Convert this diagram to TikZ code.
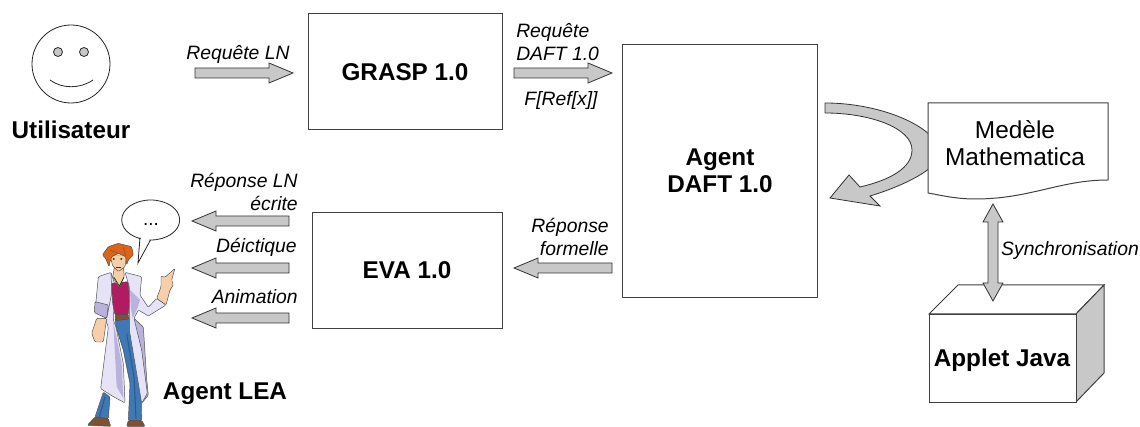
\documentclass[tikz,border=0pt]{standalone}
\usepackage{fontspec}
\setmainfont{Liberation Sans}
\definecolor{agrey}{HTML}{C8C8C8}
\definecolor{lcoat}{HTML}{E6E3F6}
\definecolor{lcoatd}{HTML}{B9B2DC}
\definecolor{lskin}{HTML}{F6CFA8}
\definecolor{lhair}{HTML}{DC6418}
\definecolor{lhaird}{HTML}{B04A10}
\definecolor{lshirt}{HTML}{B21A62}
\definecolor{ljean}{HTML}{3F78B4}
\definecolor{ljeand}{HTML}{2C5A90}
\definecolor{lboot}{HTML}{7E5230}
\newcommand\arrowR[3]{\draw[blockarrow] (#1,#3-5) -- (#2-24,#3-5) -- (#2-24,#3-10) -- (#2,#3) -- (#2-24,#3+10) -- (#2-24,#3+5) -- (#1,#3+5) -- cycle;}
\newcommand\arrowL[3]{\draw[blockarrow] (#1,#3-5) -- (#2+24,#3-5) -- (#2+24,#3-10) -- (#2,#3) -- (#2+24,#3+10) -- (#2+24,#3+5) -- (#1,#3+5) -- cycle;}
\tikzset{
  box/.style={draw=black!75,line width=0.75pt,fill=white,inner sep=0pt,align=center},
  blockarrow/.style={draw=black!80,line width=0.6pt,fill=agrey},
  boldlab/.style={font=\fontsize{18.2}{20}\selectfont\bfseries,align=center,inner sep=0pt},
  itlab/.style={font=\fontsize{14.5}{16.6}\selectfont\itshape,align=center,inner sep=0pt},
  figline/.style={draw=black!70,line width=0.35pt,line join=round,rounded corners=0.8pt}
}
\begin{document}
\begin{tikzpicture}[x=0.75pt,y=-0.75pt]
\useasboundingbox[fill=white] (0,0) rectangle (1140,427);
% user
\draw[line width=0.6pt,draw=black!85,fill=white] (71,64) circle[radius=39];
\draw[line width=0.6pt,draw=black!85,fill=agrey] (58,52) circle[radius=4.5] (84,52) circle[radius=4.5];
\draw[line width=0.6pt,draw=black!85] (50,80) .. controls (62,89) and (80,89) .. (93,80);
\node[boldlab] (user) at (71,130) {Utilisateur};
% boxes
\node[box,minimum width=145.5pt,minimum height=87pt,anchor=north west] (grasp) at (308,13) {};
\node[boldlab] (grasplab) at (405,72) {GRASP 1.0};
\node[box,minimum width=146.25pt,minimum height=189.75pt,anchor=north west] (agent) at (622,44) {};
\node[boldlab] (agentlab) at (720,171) {Agent\\DAFT 1.0};
\node[box,minimum width=142.5pt,minimum height=87pt,anchor=north west] (eva) at (312,212) {};
\node[boldlab] (evalab) at (407,270) {EVA 1.0};
% block arrows
\arrowR{195}{293}{73}
\arrowR{514}{612}{73}
\arrowL{612}{514}{268}
\arrowL{289}{192}{221}
\arrowL{289}{192}{268}
\arrowL{289}{192}{318}
% curved arrow
\draw[blockarrow] (825,103) .. controls (870,103) and (912,118) .. (930,135) -- (930,168) .. controls (915,180) and (890,190) .. (870,196) -- (880,206) -- (830,198) -- (849,175) -- (860,187) .. controls (890,180) and (912,168) .. (912,150) .. controls (912,128) and (870,113) .. (825,113) -- cycle;
% document
\draw[box] (928,103) -- (1108,103) -- (1108,180) .. controls (1060,180) and (1030,199) .. (975,199) .. controls (955,199) and (940,195) .. (928,193) -- cycle;
\node[font=\fontsize{18.3}{20}\selectfont,align=center,inner sep=0pt] (doc) at (1015,143) {Medèle\\Mathematica};
% java cube
\draw[box] (929,314) -- (958,285) -- (1104,285) -- (1076,314) -- cycle;
\draw[draw=black!75,line width=0.75pt,fill=agrey] (1076,314) -- (1104,285) -- (1104,373) -- (1076,402) -- cycle;
\node[box,minimum width=110.25pt,minimum height=66pt,anchor=north west] (java) at (929,314) {};
\node[boldlab] (javalab) at (1002,360) {Applet Java};
% double arrow
\draw[blockarrow] (993,204) -- (1003,222) -- (998,222) -- (998,283) -- (1003,283) -- (993,301) -- (983,283) -- (988,283) -- (988,222) -- (983,222) -- cycle;
% labels
\node[itlab] (l1) at (238,54) {Requête LN};
\node[itlab,align=left,anchor=west] (l2) at (516,42) {Requête\\DAFT 1.0};
\node[itlab] (l3) at (561,101) {F[Ref[x]]};
\node[itlab,align=right,anchor=east] (l4) at (609,237) {Réponse\\formelle};
\node[itlab,align=right,anchor=east] (l5) at (298,192) {Réponse LN\\écrite};
\node[itlab,anchor=east] (l6) at (297,247) {Déictique};
\node[itlab,anchor=east] (l7) at (298,297) {Animation};
\node[itlab] (l8) at (1070,251) {Synchronisation};
\node[boldlab] (lea) at (225,394) {Agent LEA};
% bubble
\draw[line width=0.6pt,draw=black!85,fill=white] (150.7,220) ellipse[x radius=29,y radius=20];
\fill[white] (141,236) -- (138,263) -- (150,238) -- cycle;
\draw[line width=0.6pt,draw=black!85] (140,237.5) -- (138,263) -- (150.5,240);
\node[font=\fontsize{14}{16}\selectfont,inner sep=0pt] (dots) at (151,225) {...};
% character
\begin{scope}[shift={(60,190)},x=0.25pt,y=-0.25pt]
% jeans
\path[figline,fill=ljean] (130,606) -- (105,681) -- (145,686) -- (150,621) -- cycle;
\path[figline,fill=ljean] (165,385) -- (208,385) -- (225,411) -- (242,561) -- (245,691) -- (205,691) -- (210,581) -- (190,481) -- (168,411) -- cycle;
\draw[ljeand,line width=0.8pt] (200,430) -- (222,560) -- (228,685);
\draw[ljeand,line width=0.8pt] (135,620) -- (118,680);
% boots
\path[figline,fill=lboot] (82,706) -- (105,681) -- (145,686) -- (152,709) -- cycle;
\path[figline,fill=lboot] (200,709) -- (205,691) -- (245,691) -- (255,709) -- cycle;
% coat back tail
\path[figline,fill=lcoatd] (222,385) -- (250,411) -- (260,566) -- (265,616) -- (245,640) -- (238,560) -- (215,440) -- cycle;
% coat left panel
\path[figline,fill=lcoat] (153,247) -- (165,285) -- (160,390) -- (168,411) -- (190,521) -- (195,639) -- (160,620) -- (122,596) -- (145,411) -- (135,385) -- (150,310) -- cycle;
\path[draw=none,fill=lcoatd] (160,395) -- (185,520) -- (190,625) -- (170,590) -- cycle;
% coat left sleeve
\path[figline,fill=lcoat] (153,247) -- (115,260) -- (105,365) -- (140,385) -- (155,310) -- cycle;
\path[figline,fill=lcoatd] (105,335) -- (145,345) -- (140,385) -- (103,368) -- cycle;
% shirt and belt
\path[figline,fill=lshirt] (155,280) -- (205,275) -- (208,335) -- (205,375) -- (165,375) -- (158,340) -- cycle;
\path[figline,fill=lboot] (165,375) -- (205,373) -- (206,387) -- (167,392) -- cycle;
% coat right part
\path[figline,fill=lcoat] (195,247) -- (245,260) -- (240,315) -- (265,352) -- (290,325) -- (318,345) -- (265,378) -- (235,360) -- (222,385) -- (245,480) -- (262,610) -- (245,640) -- (225,520) -- (208,420) -- (208,290) -- cycle;
\path[draw=none,fill=lcoatd] (210,300) -- (240,330) -- (232,355) -- (218,385) -- (212,350) -- cycle;
% skin
\path[figline,fill=lskin] (163,232) -- (190,232) -- (193,258) -- (178,292) -- (158,262) -- cycle;
\draw[black!70!green,line width=0.5pt] (162,262) -- (178,288) -- (192,262);
\path[figline,fill=lskin] (110,385) -- (140,385) -- (135,421) -- (130,456) -- (105,456) -- (95,430) -- cycle;
\path[figline,fill=lskin] (290,325) -- (303,290) -- (303,258) -- (315,262) -- (345,235) -- (335,270) -- (340,285) -- (330,300) -- (318,345) -- cycle;
% head and hair
\path[figline,fill=lskin] (150,195) -- (200,195) -- (195,230) -- (175,245) -- (158,228) -- cycle;
\path[figline,fill=lhair] (127,195) -- (145,170) -- (175,160) -- (215,170) -- (220,195) -- (205,210) -- (200,225) -- (197,200) -- (175,190) -- (155,200) -- (150,215) -- (147,230) -- (137,205) -- cycle;
\draw[lhaird,line width=0.5pt] (150,180) -- (175,190) (190,172) -- (197,198);
\fill[green!45!black] (161,207) circle[radius=3.5] (184,207) circle[radius=3.5];
\fill[red!70!black] (168,232) rectangle (182,235);
\end{scope}
\end{tikzpicture}
\end{document}
